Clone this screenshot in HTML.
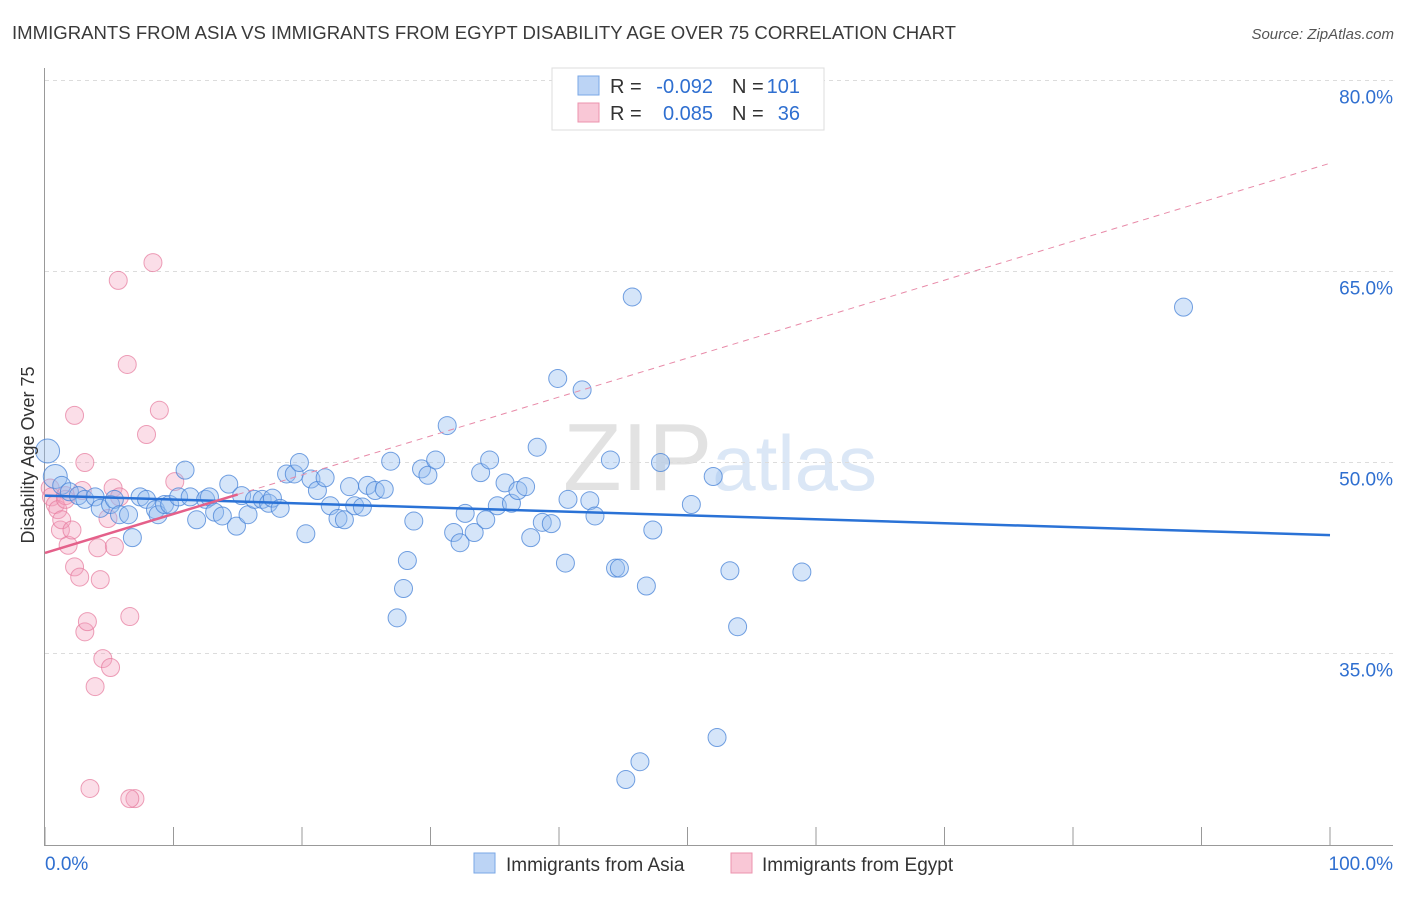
<!DOCTYPE html>
<html><head><meta charset="utf-8">
<style>
body{margin:0;background:#fff;font-family:"Liberation Sans",sans-serif;}
svg text{font-family:"Liberation Sans",sans-serif;}
</style></head>
<body>
<svg id="chart" width="1406" height="892" viewBox="0 0 1406 892" xmlns="http://www.w3.org/2000/svg">
<text x="12" y="39" font-size="18" fill="#3a3a3a" textLength="944" lengthAdjust="spacingAndGlyphs">IMMIGRANTS FROM ASIA VS IMMIGRANTS FROM EGYPT DISABILITY AGE OVER 75 CORRELATION CHART</text>
<text x="1394" y="39" font-size="15" fill="#555" text-anchor="end" font-style="italic">Source: ZipAtlas.com</text>
<text x="720" y="490" font-size="96" fill="#e6e6e6" text-anchor="middle" font-family="Liberation Serif"><tspan fill="#e2e2e2">ZIP</tspan><tspan fill="#dbe7f6" font-family="Liberation Sans" font-size="78">atlas</tspan></text>
<g id="grid"></g>
<g id="axes"></g>
<g id="pts"></g>
<g id="trends"></g>
<text transform="translate(34,455) rotate(-90)" font-size="18" fill="#333" text-anchor="middle">Disability Age Over 75</text>
<g>
<rect x="552" y="68" width="272" height="62" fill="#fff" stroke="#ddd"/>
<rect x="578" y="76" width="21" height="19" fill="#bcd4f5" stroke="#7aa7e6"/>
<rect x="578" y="103" width="21" height="19" fill="#f9c7d6" stroke="#ec93ae"/>
<text x="610" y="93" font-size="20" fill="#333">R =</text>
<text x="713" y="93" font-size="20" fill="#2f6fd0" text-anchor="end">-0.092</text>
<text x="732" y="93" font-size="20" fill="#333">N =</text>
<text x="800" y="93" font-size="20" fill="#2f6fd0" text-anchor="end">101</text>
<text x="610" y="120" font-size="20" fill="#333">R =</text>
<text x="713" y="120" font-size="20" fill="#2f6fd0" text-anchor="end">0.085</text>
<text x="732" y="120" font-size="20" fill="#333">N =</text>
<text x="800" y="120" font-size="20" fill="#2f6fd0" text-anchor="end">36</text>
</g>
<g>
<rect x="474" y="853" width="21" height="20" fill="#bcd4f5" stroke="#7aa7e6"/>
<text x="506" y="871" font-size="19" fill="#333">Immigrants from Asia</text>
<rect x="731" y="853" width="21" height="20" fill="#f9c7d6" stroke="#ec93ae"/>
<text x="762" y="871" font-size="19" fill="#333">Immigrants from Egypt</text>
</g>
</svg>
<script>
const asiaX=[0.2,0.8,1.3,1.9,2.6,3.1,3.9,4.3,5.1,5.4,5.8,6.5,6.8,7.4,7.9,8.6,8.8,9.3,9.7,10.4,10.9,11.3,11.8,12.5,12.8,13.2,13.8,14.3,14.9,15.3,15.8,16.3,16.9,17.4,17.7,18.3,18.8,19.4,19.8,20.3,20.7,21.2,21.8,22.2,22.8,23.3,23.7,24.1,24.7,25.1,25.7,26.4,26.9,27.9,28.2,27.4,28.7,29.3,29.8,30.4,31.3,31.8,32.3,32.7,33.4,33.9,34.3,34.6,35.2,35.8,36.3,36.8,37.4,37.8,38.3,38.7,39.4,39.9,40.5,40.7,41.8,42.4,42.8,44.0,44.4,44.7,45.7,46.8,47.3,47.9,50.3,52.0,52.3,53.3,53.9,58.9,45.2,46.3,88.6];
const asiaY=[50.9,48.9,48.2,47.7,47.4,47.1,47.3,46.4,46.7,47.1,45.9,45.9,44.1,47.3,47.1,46.3,45.9,46.7,46.7,47.3,49.4,47.3,45.5,47.1,47.3,46.1,45.8,48.3,45.0,47.4,45.9,47.1,47.1,46.8,47.2,46.4,49.1,49.1,50.0,44.4,48.7,47.8,48.8,46.6,45.6,45.5,48.1,46.6,46.5,48.2,47.8,47.9,50.1,40.1,42.3,37.8,45.4,49.5,49.0,50.2,52.9,44.5,43.7,46.0,44.5,49.2,45.5,50.2,46.6,48.4,46.8,47.8,48.1,44.1,51.2,45.3,45.2,56.6,42.1,47.1,55.7,47.0,45.8,50.2,41.7,41.7,63.0,40.3,44.7,50.0,46.7,48.9,28.4,41.5,37.1,41.4,25.1,26.5,62.2];
const egyptX=[0.4,0.5,0.8,1.0,1.2,1.3,1.6,1.8,2.1,2.3,2.3,2.7,2.9,3.1,3.1,3.3,3.5,3.9,4.1,4.3,4.5,5.1,5.3,5.4,5.7,5.8,6.4,6.6,7.0,6.6,7.9,8.4,8.9,10.1,4.9,1.6];
const egyptY=[48.0,47.3,46.7,46.3,44.7,45.5,47.4,43.5,44.7,53.7,41.8,41.0,47.8,50.0,36.7,37.5,24.4,32.4,43.3,40.8,34.6,33.9,48.0,43.4,64.3,47.3,57.7,37.9,23.6,23.6,52.2,65.7,54.1,48.5,45.6,47.1];
const xTicks=[0,10,20,30,40,50,60,70,80,90,100];
const yTicks=[80,65,50,35];
const yTickLabels=["80.0%","65.0%","50.0%","35.0%"];
const asiaTrend=[47.4,44.3];
const egyptTrend=[42.9,73.5];
const egyptSolidEnd=15;

const NS="http://www.w3.org/2000/svg";
const xs=v=>45+v*12.85;
const ys=v=>80.5+(80-v)*12.733;
function mk(tag,attrs,parent){const e=document.createElementNS(NS,tag);for(const k in attrs)e.setAttribute(k,attrs[k]);parent.appendChild(e);return e;}
const grid=document.getElementById('grid'),axes=document.getElementById('axes'),pts=document.getElementById('pts'),tr=document.getElementById('trends');
yTicks.forEach((t,i)=>{
  const l=mk('line',{x1:45,x2:1393,y1:ys(t),y2:ys(t),stroke:'#dcdcdc','stroke-dasharray':'4,4'},grid);
  
  
  const tx=mk('text',{x:1393,y:ys(t)+23,'font-size':19,fill:'#2f6fd0','text-anchor':'end'},axes);
  tx.textContent=yTickLabels[i];
  
  
});
mk('line',{x1:44.5,x2:44.5,y1:68,y2:845,stroke:'#999'},axes);
mk('line',{x1:44,x2:1393,y1:845.5,y2:845.5,stroke:'#999'},axes);
xTicks.forEach(t=>{
  const l=mk('line',{x1:xs(t),x2:xs(t),y1:827,y2:845,stroke:'#999'},axes);
  
  
});
const x0=mk('text',{x:45,y:870,'font-size':19,fill:'#2f6fd0'},axes);x0.textContent='0.0%';


const x1=mk('text',{x:1393,y:870,'font-size':19,fill:'#2f6fd0','text-anchor':'end'},axes);x1.textContent='100.0%';



egyptX.forEach((x,i)=>{
  const c=mk('circle',{cx:xs(x),cy:ys(egyptY[i]),r:9,fill:'rgba(244,160,188,0.35)',stroke:'rgba(230,120,155,0.7)','stroke-width':1},pts);
  
  
});
asiaX.forEach((x,i)=>{
  const c=mk('circle',{cx:xs(x),cy:ys(asiaY[i]),r:(i<2?12:9),fill:'rgba(150,190,240,0.4)',stroke:'rgba(70,130,215,0.75)','stroke-width':1},pts);
  
  
});
const eAt=x=>egyptTrend[0]+(egyptTrend[1]-egyptTrend[0])*x/100;
const l1=mk('line',{x1:xs(0),y1:ys(asiaTrend[0]),x2:xs(100),y2:ys(asiaTrend[1]),stroke:'#2a72d6','stroke-width':2.5},tr);


const l2=mk('line',{x1:xs(0),y1:ys(eAt(0)),x2:xs(egyptSolidEnd),y2:ys(eAt(egyptSolidEnd)),stroke:'#e4608a','stroke-width':2.5},tr);


const l3=mk('line',{x1:xs(egyptSolidEnd),y1:ys(eAt(egyptSolidEnd)),x2:xs(100),y2:ys(eAt(100)),stroke:'#e88aa8','stroke-width':1,'stroke-dasharray':'6,5'},tr);


</script>
</body></html>
